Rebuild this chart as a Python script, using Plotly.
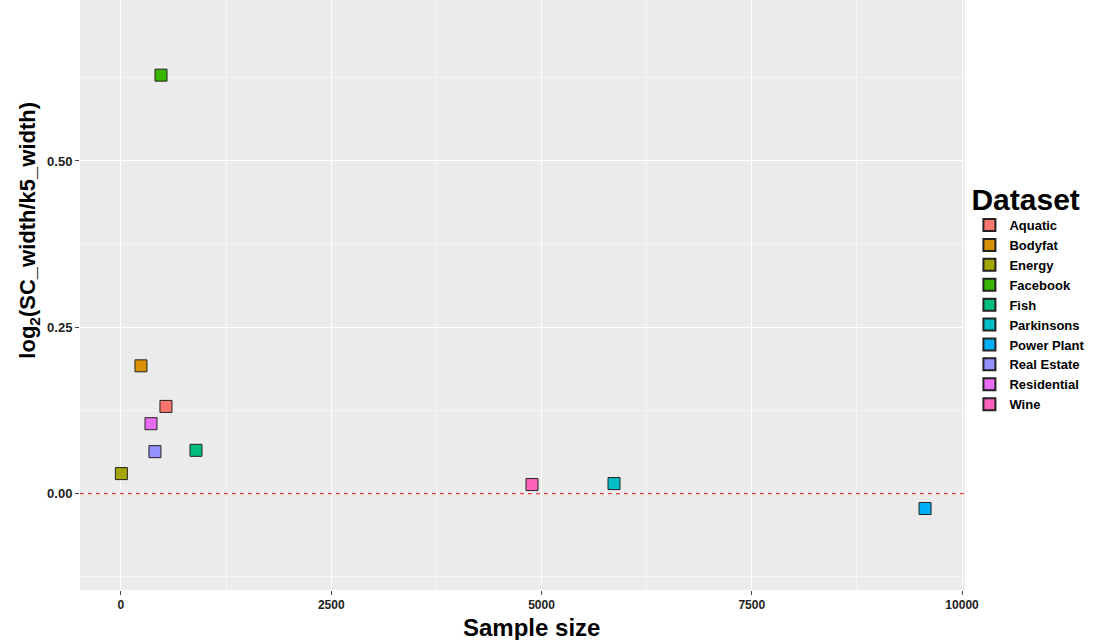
import plotly.graph_objects as go

datasets = ["Aquatic", "Bodyfat", "Energy", "Facebook", "Fish", "Parkinsons",
            "Power Plant", "Real Estate", "Residential", "Wine"]
sample_size = [535, 238, 5, 476, 892, 5862, 9560, 404, 357, 4887]
log_ratio = [0.131, 0.192, 0.030, 0.629, 0.065, 0.015, -0.0225, 0.063, 0.105, 0.0135]
colors = ["#F8766D", "#D89000", "#A3A500", "#39B600", "#00BF7D", "#00BFC4",
          "#00B0F6", "#9590FF", "#E76BF3", "#FF62BC"]

x_ticks = [0, 2500, 5000, 7500, 10000]
x_minor = [1250, 3750, 6250, 8750]
y_ticks = [0.0, 0.25, 0.5]
y_tick_labels = ["0.00", "0.25", "0.50"]
y_minor = [-0.125, 0.125, 0.375, 0.625]

FONT = "Liberation Sans"

fig = go.Figure()
for name, xv, yv, c in zip(datasets, sample_size, log_ratio, colors):
    fig.add_trace(go.Scatter(
        x=[xv], y=[yv], mode="markers", name=name,
        marker=dict(symbol="square", size=12, color=c,
                    line=dict(color="#222222", width=1)),
    ))

fig.add_shape(type="line", xref="paper", yref="y", x0=0, x1=1, y0=0, y1=0,
              line=dict(color="#FF4040", width=1.3, dash="4px,4px"), layer="above")

# axis titles as annotations (placed like the reference)
fig.add_annotation(text="log<sub>2</sub>(SC_width/k5_width)", textangle=-90,
                   xref="paper", yref="paper", x=-0.057, y=0.61,
                   xanchor="center", yanchor="middle", showarrow=False,
                   font=dict(size=22, family=FONT, weight="bold", color="black"))
fig.add_annotation(text="Sample size", xref="paper", yref="paper",
                   x=0.51, y=-0.063, xanchor="center", yanchor="middle", showarrow=False,
                   font=dict(size=24, family=FONT, weight="bold", color="black"))

fig.update_layout(
    width=1097, height=640,
    paper_bgcolor="white", plot_bgcolor="#EBEBEB",
    margin=dict(l=80, r=132, t=0, b=50, autoexpand=False),
    font=dict(family=FONT, color="black"),
    showlegend=True,
    legend=dict(
        title=dict(text="Dataset", font=dict(size=30, family=FONT, weight="bold", color="black")),
        font=dict(size=13, family=FONT, weight="bold", color="black"),
        x=1.005, xanchor="left", y=0.71, yanchor="top",
        tracegroupgap=0, itemsizing="constant", itemwidth=30, bgcolor="rgba(0,0,0,0)",
    ),
    xaxis=dict(
        range=[-487, 10035], tickvals=x_ticks, ticktext=[str(v) for v in x_ticks],
        showgrid=True, gridcolor="white", gridwidth=1.2,
        minor=dict(tickvals=x_minor, showgrid=True, gridcolor="#F5F5F5", gridwidth=0.6, ticklen=0),
        zeroline=False, showline=False, automargin=False,
        ticks="outside", ticklen=4, tickcolor="#444444",
        tickfont=dict(size=12, family=FONT, weight="bold", color="#222222"),
    ),
    yaxis=dict(
        range=[-0.145, 0.742], tickvals=y_ticks, ticktext=y_tick_labels,
        showgrid=True, gridcolor="white", gridwidth=1.2,
        minor=dict(tickvals=y_minor, showgrid=True, gridcolor="#F5F5F5", gridwidth=0.6, ticklen=0),
        zeroline=False, showline=False, automargin=False,
        ticks="outside", ticklen=4, tickcolor="#444444",
        tickfont=dict(size=13, family=FONT, weight="bold", color="#222222"),
    ),
)

fig.write_html("out.html", config={"displayModeBar": False},
               post_script="document.body.style.margin='0';")
